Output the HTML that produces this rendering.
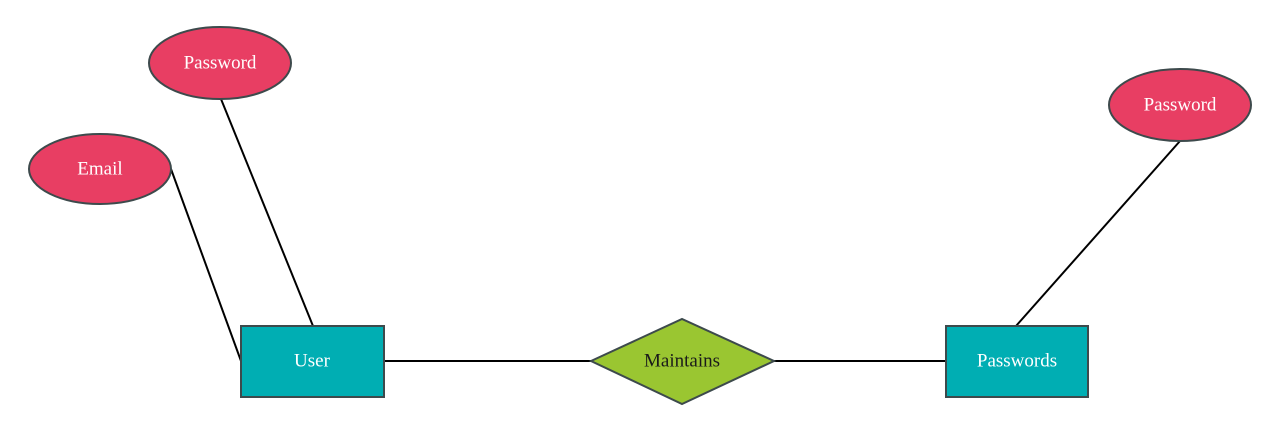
<!DOCTYPE html>
<html><head><meta charset="utf-8"><style>
html,body{margin:0;padding:0;background:#fff;width:1280px;height:433px;overflow:hidden}
text{font-family:"Liberation Serif",serif;font-size:19px;text-anchor:middle;dominant-baseline:central}
</style></head><body>
<svg width="1280" height="433" viewBox="0 0 1280 433">
<g stroke="#000" stroke-width="2">
<line x1="221" y1="99" x2="313" y2="326"/>
<line x1="171" y1="169" x2="241" y2="361"/>
<line x1="384" y1="361" x2="591" y2="361"/>
<line x1="774" y1="361" x2="946" y2="361"/>
<line x1="1180" y1="141" x2="1016" y2="326"/>
</g>
<g stroke="#3d4a4c" stroke-width="2">
<g><ellipse cx="220" cy="63" rx="71" ry="36" fill="#e83e63"/><text x="220" y="63" fill="#fff" stroke="none">Password</text></g>
<g><ellipse cx="100" cy="169" rx="71" ry="35" fill="#e83e63"/><text x="100" y="169" fill="#fff" stroke="none">Email</text></g>
<g><ellipse cx="1180" cy="105" rx="71" ry="36" fill="#e83e63"/><text x="1180" y="105" fill="#fff" stroke="none">Password</text></g>
<g><rect x="241" y="326" width="143" height="71" fill="#00aeb3"/><text x="312" y="361" fill="#fff" stroke="none">User</text></g>
<g><rect x="946" y="326" width="142" height="71" fill="#00aeb3"/><text x="1017" y="361" fill="#fff" stroke="none">Passwords</text></g>
<g><polygon points="591,361 682,319 774,361 682,404" fill="#9ac631"/><text x="682" y="361" fill="#1a1a1a" stroke="none">Maintains</text></g>
</g>
</svg>
</body></html>
